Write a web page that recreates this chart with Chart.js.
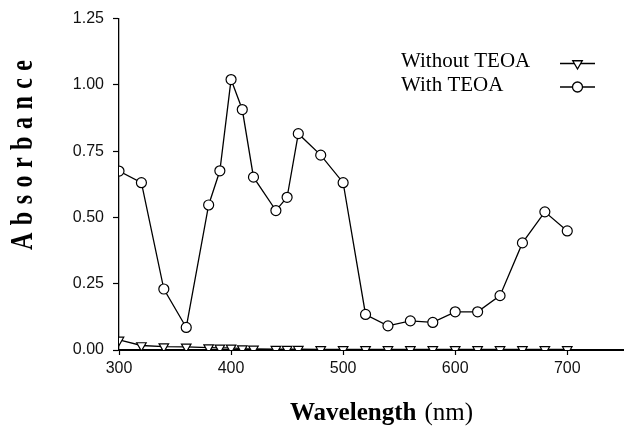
<!DOCTYPE html>
<html>
<head>
<meta charset="utf-8">
<script src="https://cdn.jsdelivr.net/npm/chart.js@4/dist/chart.umd.min.js"></script>
<style>
  html, body { margin: 0; padding: 0; background: #fff; }
  canvas { display: block; }
</style>
</head>
<body>
<canvas id="absChart" width="630" height="427"></canvas>
<script>
// wavelength (nm) for every measured point
const wavelengths = [300, 320, 340, 360, 380, 390, 400, 410, 420, 440, 450, 460,
                     480, 500, 520, 540, 560, 580, 600, 620, 640, 660, 680, 700];
const withTeoa = [0.675, 0.631, 0.230, 0.085, 0.547, 0.676, 1.020, 0.907, 0.652, 0.526, 0.576, 0.816,
                  0.735, 0.631, 0.134, 0.091, 0.110, 0.104, 0.144, 0.144, 0.205, 0.404, 0.521, 0.449];
const withoutTeoa = [0.038, 0.017, 0.013, 0.012, 0.009, 0.008, 0.008, 0.005, 0.004, 0.003, 0.003, 0.003,
                     0.002, 0.002, 0.002, 0.002, 0.002, 0.002, 0.002, 0.002, 0.002, 0.002, 0.002, 0.002];
const xTicks = [300, 400, 500, 600, 700];
const yTicks = [0, 0.25, 0.5, 0.75, 1.0, 1.25];

const seriesNames = ['Without TEOA', 'With TEOA'];

function toPoints(vals) {
    return wavelengths.map((w, i) => ({ x: w, y: vals[i] }));
}

// legend + axis titles drawn by hand to get the journal look
const decorations = {
    id: 'decorations',
    afterDraw(chart) {
        const ctx = chart.ctx;
        ctx.save();
        ctx.fillStyle = '#000';
        ctx.strokeStyle = '#000';

        // y title, spaced letters
        const yTitle = 'Absorbance';
        ctx.font = 'bold 24px "Liberation Serif", "Times New Roman", serif';
        ctx.translate(24, 155);
        ctx.rotate(-Math.PI / 2);
        ctx.scale(1, 1.35);
        let widths = yTitle.split('').map(c => ctx.measureText(c).width);
        let total = 190;
        let gap = (total - widths.reduce((a, b) => a + b, 0)) / (yTitle.length - 1);
        let cx = -total / 2;
        ctx.textBaseline = 'middle';
        yTitle.split('').forEach((c, i) => {
            ctx.fillText(c, cx, 0);
            cx += widths[i] + gap;
        });
        ctx.restore();

        // x title
        ctx.save();
        ctx.fillStyle = '#000';
        ctx.textBaseline = 'alphabetic';
        ctx.font = 'bold 25px "Liberation Serif", "Times New Roman", serif';
        ctx.fillText('Wavelength', 290, 420);
        const ww = ctx.measureText('Wavelength').width;
        ctx.font = '25px "Liberation Serif", "Times New Roman", serif';
        ctx.fillText('(nm)', 290 + ww + 8, 420);
        ctx.restore();

        // legend
        ctx.save();
        ctx.fillStyle = '#000';
        ctx.font = '21px "Liberation Serif", "Times New Roman", serif';
        ctx.fillText(seriesNames[0], 401, 67);
        ctx.fillText(seriesNames[1], 401, 91);
        ctx.lineWidth = 1.3;
        [63.5, 87].forEach((ly, i) => {
            ctx.beginPath();
            ctx.moveTo(560, ly);
            ctx.lineTo(595, ly);
            ctx.stroke();
            ctx.beginPath();
            if (i === 0) {
                const r = 5.5;
                ctx.moveTo(577.5, ly + r);
                ctx.lineTo(577.5 - r * 0.866, ly - r * 0.5);
                ctx.lineTo(577.5 + r * 0.866, ly - r * 0.5);
                ctx.closePath();
            } else {
                ctx.arc(577.5, ly, 5, 0, Math.PI * 2);
            }
            ctx.fillStyle = '#fff';
            ctx.fill();
            ctx.stroke();
        });
        ctx.restore();
    }
};

const ctx = document.getElementById('absChart').getContext('2d');
new Chart(ctx, {
    type: 'line',
    data: {
        datasets: [{
            label: seriesNames[0],
            data: toPoints(withoutTeoa),
            borderColor: '#000',
            borderWidth: 1.3,
            pointStyle: 'triangle',
            rotation: 180,
            pointRadius: 5.5,
            pointBorderWidth: 1.2,
            pointBackgroundColor: '#fff',
            pointBorderColor: '#000',
            tension: 0
        }, {
            label: seriesNames[1],
            data: toPoints(withTeoa),
            borderColor: '#000',
            borderWidth: 1.3,
            pointStyle: 'circle',
            pointRadius: 5,
            pointBorderWidth: 1.2,
            pointBackgroundColor: '#fff',
            pointBorderColor: '#000',
            tension: 0
        }]
    },
    options: {
        responsive: false,
        animation: false,
        devicePixelRatio: 1,
        layout: { padding: { left: 0, top: 17, right: 0, bottom: 0 } },
        plugins: {
            legend: { display: false },
            tooltip: { enabled: false }
        },
        scales: {
            x: {
                type: 'linear',
                min: 300,
                max: 750,
                afterBuildTicks: scale => {
                    scale.ticks = xTicks.map(v => ({ value: v }));
                },
                afterFit: scale => { scale.height = 77; },
                border: { color: '#000', width: 2 },
                grid: { drawOnChartArea: false, tickLength: 5, color: '#000', tickWidth: 1.2 },
                ticks: {
                    color: '#111',
                    padding: 4,
                    maxRotation: 0,
                    font: { family: '"Liberation Sans", Arial, sans-serif', size: 16 }
                }
            },
            y: {
                min: 0,
                max: 1.25,
                afterBuildTicks: scale => {
                    scale.ticks = yTicks.map(v => ({ value: v }));
                },
                afterFit: scale => { scale.width = 119; },
                border: { color: '#000', width: 1.3 },
                grid: { drawOnChartArea: false, tickLength: 6, color: '#000', tickWidth: 1.2 },
                ticks: {
                    color: '#111',
                    padding: 9,
                    callback: v => v.toFixed(2),
                    font: { family: '"Liberation Sans", Arial, sans-serif', size: 16 }
                }
            }
        }
    },
    plugins: [decorations]
});
</script>
</body>
</html>
